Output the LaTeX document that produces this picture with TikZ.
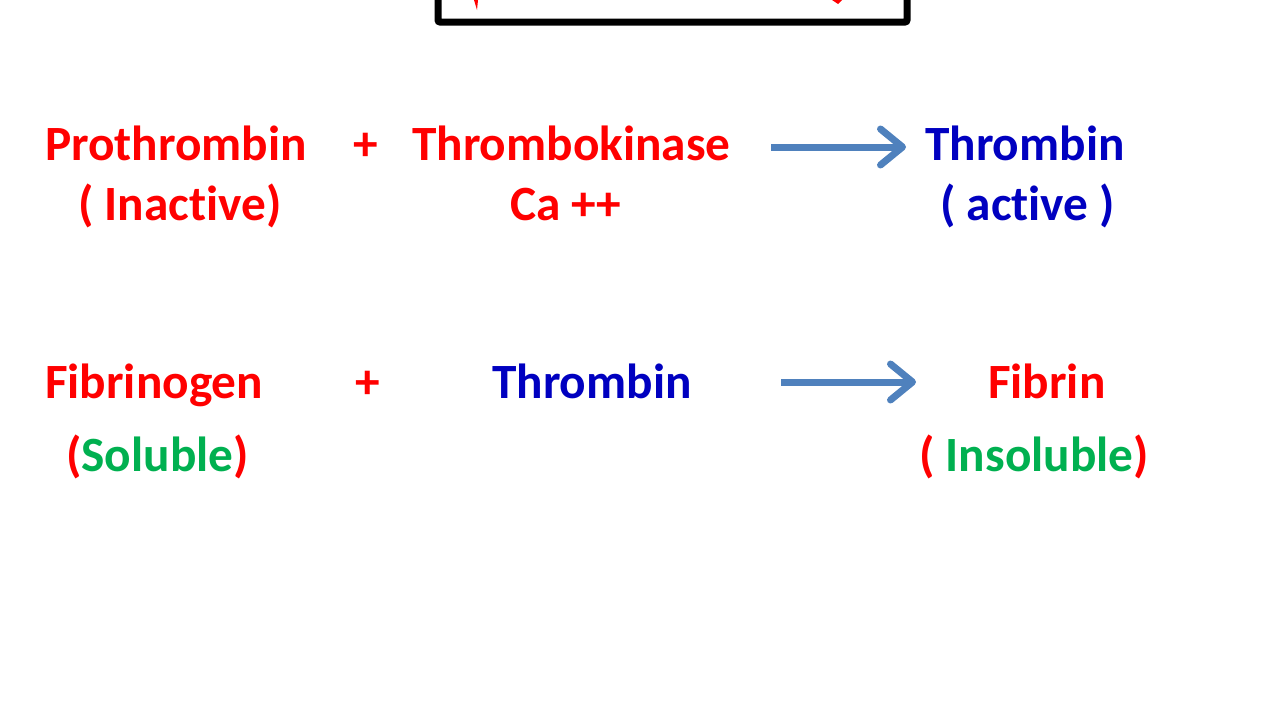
\documentclass[tikz,border=0pt]{standalone}
\usepackage{fontspec}
\setmainfont[Ligatures={NoCommon}]{Carlito}
\usetikzlibrary{arrows.meta}
\definecolor{cred}{HTML}{FF0000}
\definecolor{cblue}{HTML}{0000C0}
\definecolor{cgreen}{HTML}{00B050}
\definecolor{carrow}{HTML}{4F81BD}
\tikzset{
  lbl/.style={anchor=base west, inner sep=0pt, font=\fontsize{49.3}{56}\selectfont\bfseries},
  rxn/.style={draw=carrow, line width=7pt, -{Straight Barb[length=22pt, width=36pt, line cap=round, line join=round]}}
}
\begin{document}
\begin{tikzpicture}[x=1pt,y=-1pt]
\useasboundingbox (0,0) rectangle (1280,720);
% clipped title box
\draw[line width=7pt, rounded corners=2pt] (438,-20) -- (438,22) -- (907,22) -- (907,-20);
\fill[cred] (474,0) -- (478,0) -- (477,10) -- cycle;
\fill[cred] (832,0) -- (842,0) -- (838,4) -- cycle;
% row 1
\node[lbl, text=cred] (pro) at (45,160) {Prothrombin};
\node[lbl, text=cred] (inact) at (78,220) {( Inactive)};
\node[lbl, text=cred] (plus1) at (353,160) {+};
\node[lbl, text=cred] (tk) at (412,160) {Thrombokinase};
\node[lbl, text=cred] (ca) at (510,220) {Ca ++};
\node[lbl, text=cblue] (thr1) at (925,160) {Thrombin};
\node[lbl, text=cblue] (act) at (940,220) {( active )};
% row 2
\node[lbl, text=cred] (fib) at (45,398) {Fibrinogen};
\node[lbl] (sol) at (66,471) {\textcolor{cred}{(}\textcolor{cgreen}{Soluble}\textcolor{cred}{)}};
\node[lbl, text=cred] (plus2) at (355,398) {+};
\node[lbl, text=cblue] (thr2) at (492,398) {Thrombin};
\node[lbl, text=cred] (fibrin) at (988,398) {Fibrin};
\node[lbl] (insol) at (919,471) {\textcolor{cred}{(}\textcolor{cgreen}{\ Insoluble}\textcolor{cred}{)}};
% arrows
\coordinate (a1s) at (771,147);
\coordinate (a1e) at (906,147);
\coordinate (a2s) at (781,382);
\coordinate (a2e) at (916,382);
\draw[rxn] (a1s) -- (a1e);
\draw[rxn] (a2s) -- (a2e);
\end{tikzpicture}
\end{document}
